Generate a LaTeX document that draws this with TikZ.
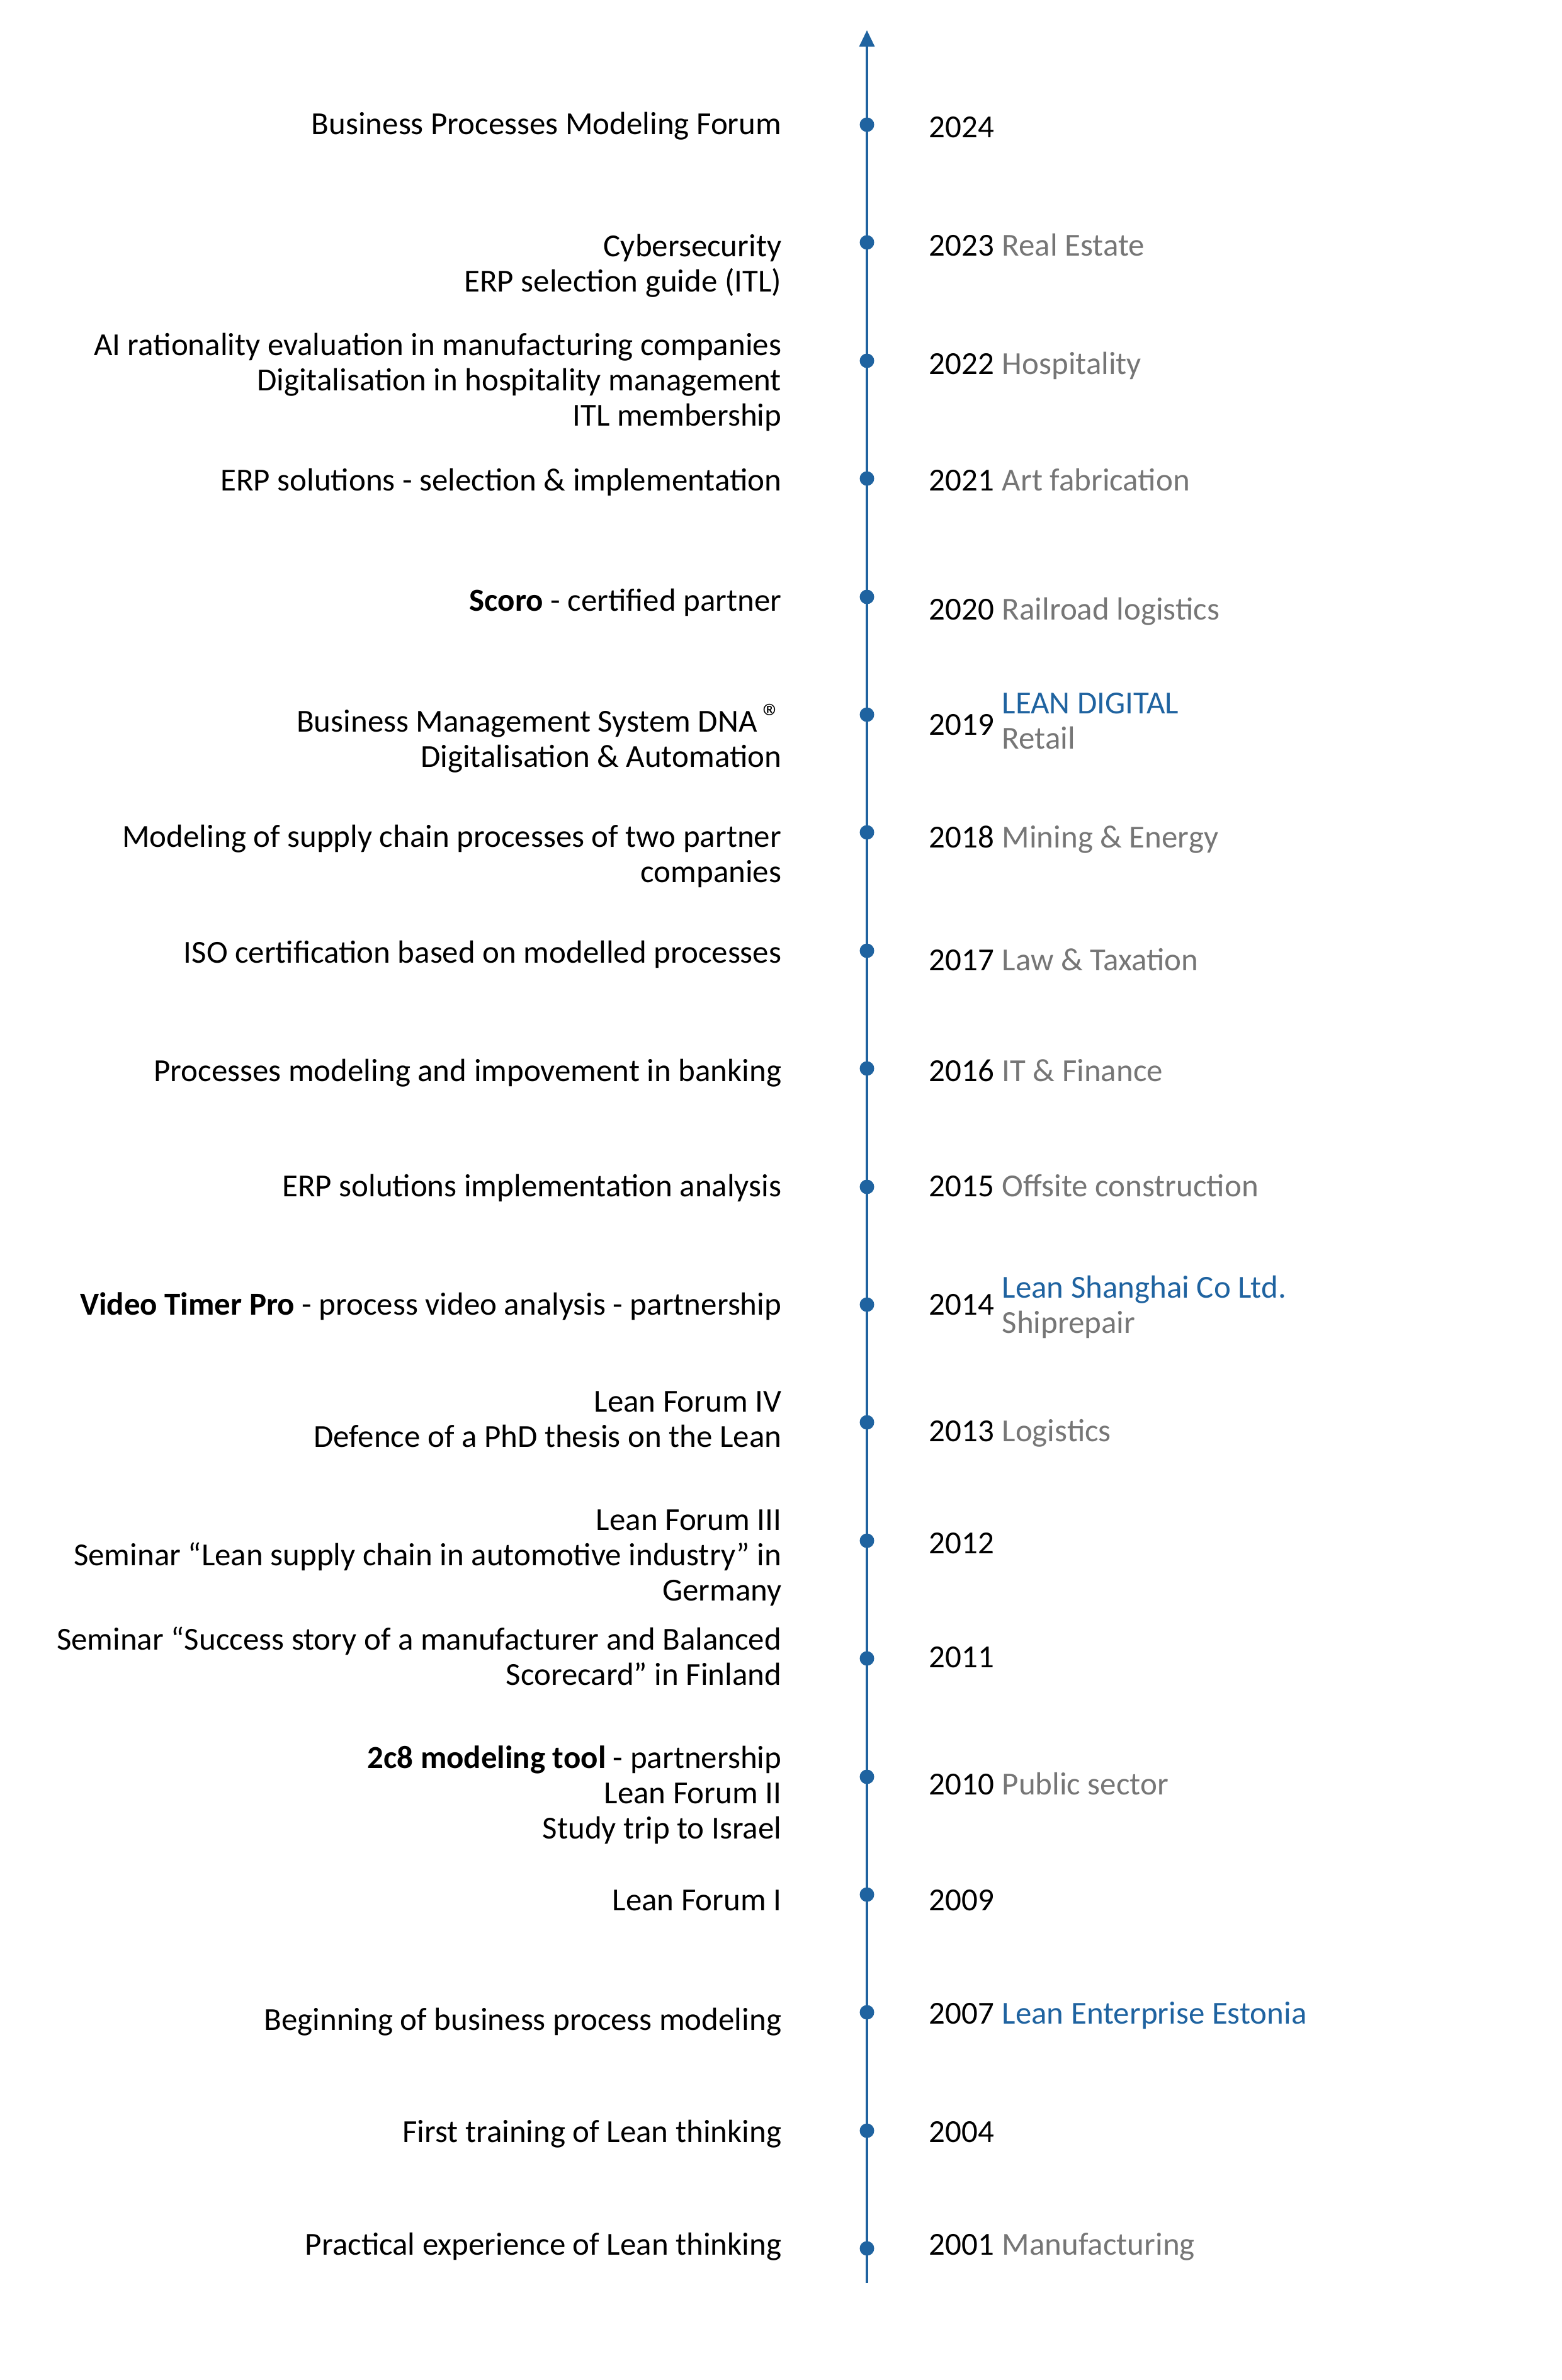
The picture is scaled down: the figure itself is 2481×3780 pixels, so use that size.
\documentclass[tikz,border=0pt]{standalone}
\usepackage{fontspec}
\setmainfont{Carlito}
\usetikzlibrary{arrows.meta}

\definecolor{tlblue}{HTML}{1F63A0}
\definecolor{tlgray}{HTML}{767676}

\tikzset{
    axisline/.style={draw=tlblue, line width=1pt, -{Triangle[width=2.4mm,length=2.6mm]}},
    yeardot/.style={circle, fill=tlblue, inner sep=0pt, minimum size=2.3mm},
    event/.style={anchor=base east, align=right, inner sep=0pt, text=black, font=\fontsize{14.5}{15.8}\selectfont},
    year/.style={anchor=base west, inner sep=0pt, text=black, font=\fontsize{14.5}{15.8}\selectfont},
    sector/.style={anchor=base west, align=left, inner sep=0pt, text=tlgray, font=\fontsize{14.5}{15.8}\selectfont}
}
\newcommand{\regmark}{\,\raisebox{0.05em}{\fontsize{17}{17}\selectfont ®}}

\begin{document}
\begin{tikzpicture}[x=0.1mm, y=-0.1mm]
        \useasboundingbox (0,0) rectangle (2481,3780);

        % Coordinates
        \coordinate (top) at (1377, 48);
        \coordinate (bottom) at (1377, 3626);

        % Axis
        \draw[axisline] (bottom) -- (top);

        % Dots
        \node[yeardot] (d2024) at (1377, 198) {};
        \node[yeardot] (d2023) at (1377, 385) {};
        \node[yeardot] (d2022) at (1377, 573) {};
        \node[yeardot] (d2021) at (1377, 760) {};
        \node[yeardot] (d2020) at (1377, 948) {};
        \node[yeardot] (d2019) at (1377, 1135) {};
        \node[yeardot] (d2018) at (1377, 1322) {};
        \node[yeardot] (d2017) at (1377, 1510) {};
        \node[yeardot] (d2016) at (1377, 1697) {};
        \node[yeardot] (d2015) at (1377, 1885) {};
        \node[yeardot] (d2014) at (1377, 2072) {};
        \node[yeardot] (d2013) at (1377, 2259) {};
        \node[yeardot] (d2012) at (1377, 2447) {};
        \node[yeardot] (d2011) at (1377, 2634) {};
        \node[yeardot] (d2010) at (1377, 2822) {};
        \node[yeardot] (d2009) at (1377, 3009) {};
        \node[yeardot] (d2007) at (1377, 3196) {};
        \node[yeardot] (d2004) at (1377, 3384) {};
        \node[yeardot] (d2001) at (1377, 3571) {};

        % Events (base = last line)
        \node[event] (e2024) at (1242, 213) {Business Processes Modeling Forum};
        \node[event] (e2023) at (1242, 463) {Cybersecurity\\ERP selection guide (ITL)};
        \node[event] (e2022) at (1242, 676) {AI rationality evaluation in manufacturing companies\\Digitalisation in hospitality management\\ITL membership};
        \node[event] (e2021) at (1242, 779) {ERP solutions - selection \& implementation};
        \node[event] (e2020) at (1242, 970) {\textbf{Scoro} - certified partner};
        \node[event] (e2019) at (1242, 1218) {Business Management System DNA\regmark\\Digitalisation \& Automation};
        \node[event] (e2018) at (1242, 1401) {Modeling of supply chain processes of two partner\\companies};
        \node[event] (e2017) at (1242, 1529) {ISO certification based on modelled processes};
        \node[event] (e2016) at (1242, 1717) {Processes modeling and impovement in banking};
        \node[event] (e2015) at (1242, 1900) {ERP solutions implementation analysis};
        \node[event] (e2014) at (1242, 2088) {\textbf{Video Timer Pro} - process video analysis - partnership};
        \node[event] (e2013) at (1242, 2298) {Lean Forum IV\\Defence of a PhD thesis on the Lean};
        \node[event] (e2012) at (1242, 2542) {Lean Forum III\\Seminar “Lean supply chain in automotive industry” in\\Germany};
        \node[event] (e2011) at (1242, 2676) {Seminar “Success story of a manufacturer and Balanced\\Scorecard” in Finland};
        \node[event] (e2010) at (1242, 2920) {\textbf{2c8 modeling tool} - partnership\\Lean Forum II\\Study trip to Israel};
        \node[event] (e2009) at (1242, 3034) {Lean Forum I};
        \node[event] (e2007) at (1242, 3224) {Beginning of business process modeling};
        \node[event] (e2004) at (1242, 3402) {First training of Lean thinking};
        \node[event] (e2001) at (1242, 3581) {Practical experience of Lean thinking};

        % Years
        \node[year] (y2024) at (1475, 218) {2024};
        \node[year] (y2023) at (1475, 406) {2023};
        \node[year] (y2022) at (1475, 594) {2022};
        \node[year] (y2021) at (1475, 779) {2021};
        \node[year] (y2020) at (1475, 984) {2020};
        \node[year] (y2019) at (1475, 1167) {2019};
        \node[year] (y2018) at (1475, 1346) {2018};
        \node[year] (y2017) at (1475, 1541) {2017};
        \node[year] (y2016) at (1475, 1717) {2016};
        \node[year] (y2015) at (1475, 1900) {2015};
        \node[year] (y2014) at (1475, 2088) {2014};
        \node[year] (y2013) at (1475, 2289) {2013};
        \node[year] (y2012) at (1475, 2467) {2012};
        \node[year] (y2011) at (1475, 2648) {2011};
        \node[year] (y2010) at (1475, 2850) {2010};
        \node[year] (y2009) at (1475, 3034) {2009};
        \node[year] (y2007) at (1475, 3214) {2007};
        \node[year] (y2004) at (1475, 3402) {2004};
        \node[year] (y2001) at (1475, 3581) {2001};

        % Sectors
        \node[sector] (s2023) at (1591, 406) {Real Estate};
        \node[sector] (s2022) at (1591, 594) {Hospitality};
        \node[sector] (s2021) at (1591, 779) {Art fabrication};
        \node[sector] (s2020) at (1591, 984) {Railroad logistics};
        \node[sector] (s2019) at (1591, 1189) {\textcolor{tlblue}{LEAN DIGITAL}\\Retail};
        \node[sector] (s2018) at (1591, 1346) {Mining \& Energy};
        \node[sector] (s2017) at (1591, 1541) {Law \& Taxation};
        \node[sector] (s2016) at (1591, 1717) {IT \& Finance};
        \node[sector] (s2015) at (1591, 1900) {Offsite construction};
        \node[sector] (s2014) at (1591, 2117) {\textcolor{tlblue}{Lean Shanghai Co Ltd.}\\Shiprepair};
        \node[sector] (s2013) at (1591, 2289) {Logistics};
        \node[sector] (s2010) at (1591, 2850) {Public sector};
        \node[sector] (s2007) at (1591, 3214) {\textcolor{tlblue}{Lean Enterprise Estonia}};
        \node[sector] (s2001) at (1591, 3581) {Manufacturing};
\end{tikzpicture}
\end{document}
